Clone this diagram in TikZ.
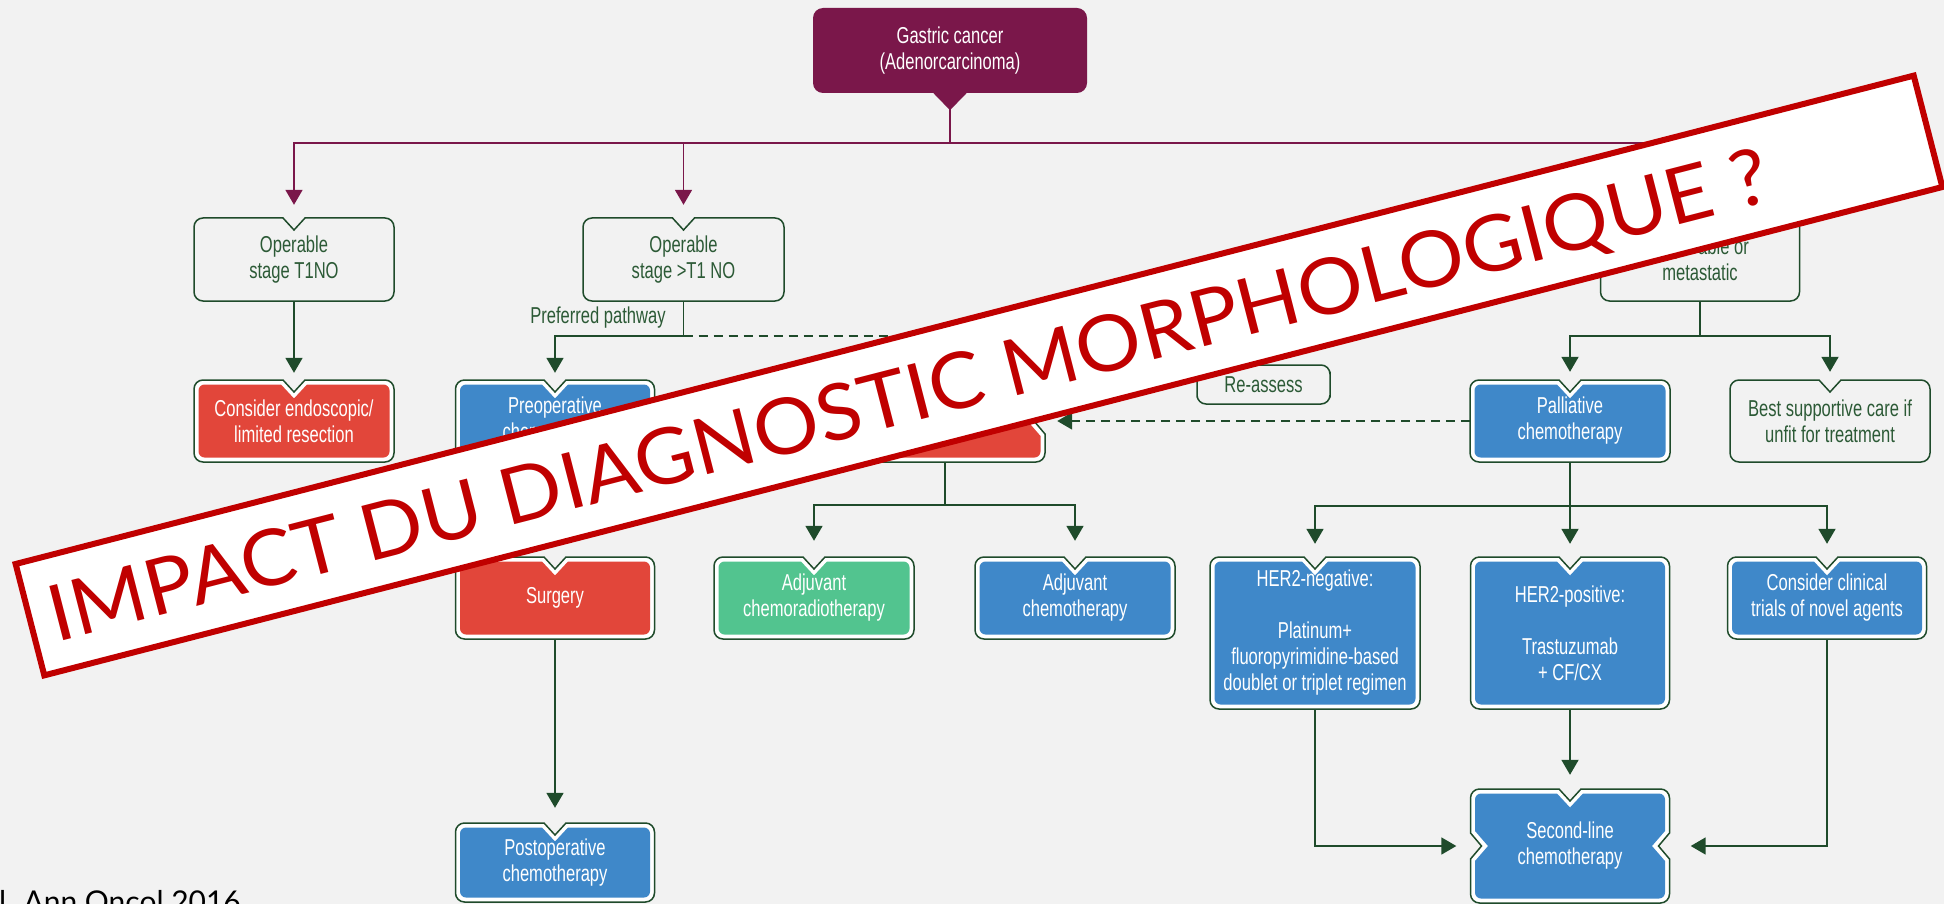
\documentclass[tikz,border=0pt]{standalone}
\usepackage{fontspec}
\setmainfont{Liberation Sans}
\newfontfamily\condfont{Liberation Sans}[FakeStretch=0.72]
\newfontfamily\stampfont{Lato}
\usetikzlibrary{arrows.meta,calc}

\definecolor{bg}{HTML}{F2F2F2}
\definecolor{plum}{HTML}{7A174A}
\definecolor{lineg}{HTML}{1F4B2B}
\definecolor{textg}{HTML}{2C5A36}
\definecolor{fillred}{HTML}{E2463A}
\definecolor{fillblue}{HTML}{3F88C9}
\definecolor{fillgreen}{HTML}{52C48F}
\definecolor{stampred}{HTML}{C00000}

\tikzset{
  boxtext/.style={inner sep=0pt, draw=none, align=center,
    font=\condfont\fontsize{23}{26}\selectfont},
  conn/.style={draw=lineg, line width=1.8pt},
  arr/.style={conn, -{Triangle[width=17pt,length=15pt]}},
  dashconn/.style={conn, dash pattern=on 9pt off 6pt},
  pconn/.style={draw=plum, line width=1.8pt},
  parr/.style={pconn, -{Triangle[width=17pt,length=15pt]}},
  frameline/.style={draw=lineg, line width=1.5pt},
}

% notch flags: top, left side, right side
\def\flagparse#1#2#3{\def\fT{#1}\def\fL{#2}\def\fR{#3}}
\def\nonename{none}

% frame geometry: inset, corner radius, top notch half width/depth, side notch half height/depth
\newcommand\setframe[6]{%
  \pgfmathsetmacro\fXl{\bL+#1}\pgfmathsetmacro\fXr{\bR-#1}%
  \pgfmathsetmacro\fYt{\bT+#1}\pgfmathsetmacro\fYb{\bB-#1}%
  \pgfmathsetmacro\fRad{#2}\pgfmathsetmacro\fK{0.448*#2}%
  \pgfmathsetmacro\fTh{#3}\pgfmathsetmacro\fTd{#4*\fT}%
  \pgfmathsetmacro\fSh{#5}\pgfmathsetmacro\fLd{#6*\fL}\pgfmathsetmacro\fRd{#6*\fR}%
}
\def\framepath{(\fXl,\fYt+\fRad) .. controls (\fXl,\fYt+\fK) and (\fXl+\fK,\fYt) .. (\fXl+\fRad,\fYt)
  -- (\bC-\fTh,\fYt) -- (\bC,\fYt+\fTd) -- (\bC+\fTh,\fYt)
  -- (\fXr-\fRad,\fYt) .. controls (\fXr-\fK,\fYt) and (\fXr,\fYt+\fK) .. (\fXr,\fYt+\fRad)
  -- (\fXr,\bM-\fSh) -- (\fXr-\fRd,\bM) -- (\fXr,\bM+\fSh)
  -- (\fXr,\fYb-\fRad) .. controls (\fXr,\fYb-\fK) and (\fXr-\fK,\fYb) .. (\fXr-\fRad,\fYb)
  -- (\fXl+\fRad,\fYb) .. controls (\fXl+\fK,\fYb) and (\fXl,\fYb-\fK) .. (\fXl,\fYb-\fRad)
  -- (\fXl,\bM+\fSh) -- (\fXl+\fLd,\bM) -- (\fXl,\bM-\fSh) -- cycle}

% [flags]{name}{centre x}{top}{width}{height}{fill colour or none}{text}
\newcommand\flowbox[8][100]{%
  \flagparse#1%
  \pgfmathsetmacro\bL{#3-#5/2}%
  \pgfmathsetmacro\bR{#3+#5/2}%
  \pgfmathsetmacro\bT{#4}%
  \pgfmathsetmacro\bB{#4+#6}%
  \pgfmathsetmacro\bC{#3}%
  \pgfmathsetmacro\bM{#4+#6/2}%
  \def\tmpfill{#7}%
  \ifx\tmpfill\nonename
    \setframe{0}{9}{11}{12}{13}{11}%
    \draw[frameline] \framepath;
    \node[boxtext, text=textg, minimum width=#5pt, minimum height=#6pt] (#2) at (\bC,\bM) {#8};
  \else
    \setframe{0}{9}{11}{12}{13}{11}%
    \draw[frameline, fill=white] \framepath;
    \setframe{4.5}{6}{13}{14}{15}{13}%
    \fill[#7] \framepath;
    \node[boxtext, text=white, minimum width=#5pt, minimum height=#6pt] (#2) at (\bC,\bM) {#8};
  \fi
}

\begin{document}
\begin{tikzpicture}[x=1pt,y=-1pt]
\useasboundingbox (0,0) rectangle (1944,904);
\clip (0,0) rectangle (1944,904);
\fill[bg] (0,0) rectangle (1944,904);

% diagnosis
\node[boxtext, text=white, fill=plum, rounded corners=10pt,
      minimum width=274pt, minimum height=85pt] (gc) at (950,50.5)
      {Gastric cancer\\(Adenorcarcinoma)};

% first level
\flowbox{op1}{294}{218}{200}{83}{none}{Operable\\stage T1NO}
\flowbox{op2}{683.5}{218}{201}{83}{none}{Operable\\stage >T1 NO}
\flowbox{inop}{1700}{218}{199}{83}{none}{Inoperable or\\metastatic}

% second level
\flowbox{red1}{294}{380}{200}{82}{fillred}{Consider endoscopic/\\limited resection}
\flowbox{preop}{555}{380}{199}{82}{fillblue}{Preoperative\\chemotherapy}
\flowbox[101]{surg2}{945}{380}{200}{82}{fillred}{Surgery}
\flowbox[000]{reas}{1263.5}{365}{133}{39}{none}{Re-assess}
\flowbox{pall}{1570}{380}{200}{82}{fillblue}{Palliative\\chemotherapy}
\flowbox{bsc}{1830}{380}{200}{82}{none}{Best supportive care if\\unfit for treatment}

% third level
\flowbox{surg1}{555}{557}{199}{82}{fillred}{Surgery}
\flowbox{adj1}{814}{557}{200}{82}{fillgreen}{Adjuvant\\chemoradiotherapy}
\flowbox{adj2}{1075}{557}{200}{82}{fillblue}{Adjuvant\\chemotherapy}
\flowbox{her2n}{1315}{557}{210}{152}{fillblue}{HER2-negative:\\[26pt]Platinum+\\fluoropyrimidine-based\\doublet or triplet regimen}
\flowbox{her2p}{1570}{557}{199}{152}{fillblue}{HER2-positive:\\[26pt]Trastuzumab\\+ CF/CX}
\flowbox{trials}{1827}{557}{199}{82}{fillblue}{Consider clinical\\trials of novel agents}

% last level
\flowbox{postop}{555}{823}{199}{79}{fillblue}{Postoperative\\chemotherapy}
\flowbox[111]{sl}{1570}{789}{199}{114}{fillblue}{Second-line\\chemotherapy}

% trunk from the diagnosis
\fill[plum] ($(gc.south)+(-17.5,-1)$) -- ($(gc.south)+(17.5,-1)$) -- ($(gc.south)+(0,17)$) -- cycle;
\draw[pconn] ($(gc.south)+(0,16)$) -- ($(gc.south)+(0,50)$) coordinate (pj);
\draw[parr, shorten >=13pt] (pj) -| (op1.north);
\draw[parr, shorten >=13pt] (pj) -| (op2.north);
\draw[parr, shorten >=13pt] (pj) -| (inop.north);

% early stage
\draw[arr, shorten >=7pt] (op1.south) -- (red1.north);

% beyond T1N0
\draw[conn] (op2.south) -- ++(0,35) coordinate (pp);
\draw[arr, shorten >=7pt] (pp) -| (preop.north);
\draw[dashconn, -{Triangle[width=17pt,length=15pt]}, shorten >=7pt] (pp) -| (surg2.north);
\node[boxtext, text=textg] (pref) at (598,318) {Preferred pathway};
\draw[arr, shorten >=14pt] (preop.south) -- (surg1.north);
\draw[arr, shorten >=15pt] (surg1.south) -- (postop.north);
\draw[conn] (surg2.south) -- ++(0,43) coordinate (sj);
\draw[arr, shorten >=16pt] (sj) -| (adj1.north);
\draw[arr, shorten >=16pt] (sj) -| (adj2.north);

% inoperable or metastatic
\draw[conn] (inop.south) -- ++(0,35) coordinate (ij);
\draw[arr, shorten >=8pt] (ij) -| (pall.north);
\draw[arr, shorten >=8pt] (ij) -| (bsc.north);
\draw[dashconn, -{Triangle[width=17pt,length=15pt]}, shorten >=12pt] (pall.west) -- (surg2.east);
\draw[conn] (pall.south) -- ++(0,44) coordinate (cj);
\draw[arr, shorten >=13pt] (cj) -| (her2n.north);
\draw[arr, shorten >=13pt] (cj) -- (her2p.north);
\draw[arr, shorten >=13pt] (cj) -| (trials.north);
\draw[arr, shorten >=14pt] (her2p.south) -- (sl.north);
\draw[arr, shorten >=14pt] (her2n.south) |- (sl.west);
\draw[arr, shorten >=21pt] (trials.south) |- (sl.east);

% stamp across the chart
\node[rotate=14.43, draw=stampred, fill=white, line width=6pt,
      minimum width=1960pt, minimum height=115pt, inner sep=0pt] (stamp) at (979,375.5) {};
\node[rotate=14.43, anchor=base, inner sep=0pt, text=stampred,
      font=\stampfont\fontsize{78}{82}\selectfont] (stamptext) at (915,421.5)
      {\scalebox{1.05}[1]{IMPACT DU DIAGNOSTIC MORPHOLOGIQUE ?}};

% reference
\node[anchor=base east, inner sep=0pt, font=\stampfont\fontsize{30}{34}\selectfont] (ref) at (241,912)
      {Smyth EC, et al. Ann Oncol 2016};
\end{tikzpicture}
\end{document}
